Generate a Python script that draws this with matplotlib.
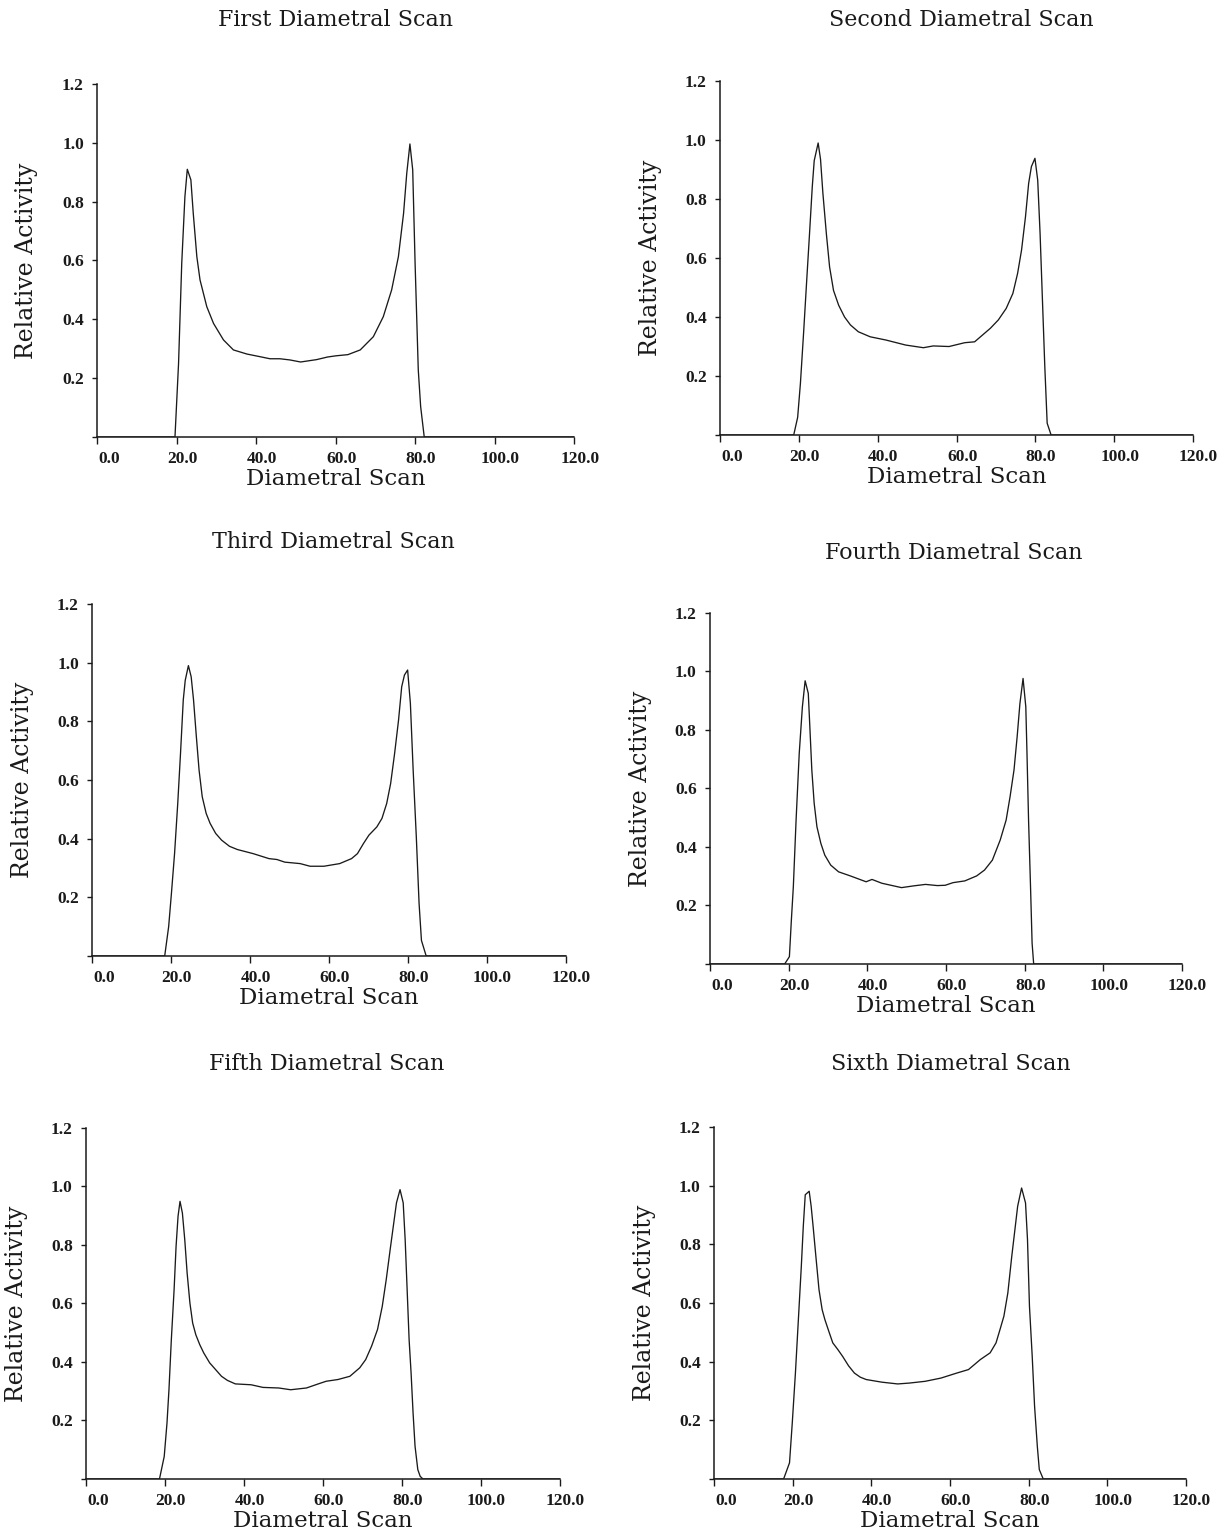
import matplotlib
matplotlib.use('Agg')
import matplotlib.pyplot as plt
from matplotlib.transforms import ScaledTranslation


# values
titles = ['First Diametral Scan', 'Second Diametral Scan', 'Third Diametral Scan',
          'Fourth Diametral Scan', 'Fifth Diametral Scan', 'Sixth Diametral Scan']

scan1_x = [0, 19.6, 20.5, 21.3, 22.1, 22.7, 23.6, 24.2, 25.1, 25.9, 27.6, 29.3, 31.8, 34.3,
           37.7, 41.0, 43.5, 46.0, 48.5, 51.2, 55.2, 58.0, 60.1, 63.1, 66.2, 69.5, 72.0, 74.1,
           75.8, 77.1, 77.9, 78.7, 79.4, 80.0, 80.8, 81.4, 82.3, 120]
scan1_y = [0, 0, 0.25, 0.59, 0.817, 0.91, 0.874, 0.76, 0.613, 0.534, 0.443, 0.386, 0.33, 0.296,
           0.282, 0.273, 0.266, 0.266, 0.262, 0.255, 0.263, 0.272, 0.276, 0.28, 0.296, 0.341,
           0.409, 0.5, 0.613, 0.76, 0.896, 0.996, 0.908, 0.59, 0.228, 0.103, 0, 0]

scan2_x = [0, 18.7, 19.7, 20.4, 21.2, 22.0, 22.7, 23.4, 23.9, 24.9, 25.5, 26.1, 27.0, 27.8, 28.8,
           30.1, 31.6, 33.1, 35.1, 38.1, 42.1, 47.1, 51.6, 54.1, 58.1, 62.1, 64.6, 66.6, 68.6,
           70.6, 72.6, 74.3, 75.5, 76.5, 77.5, 78.3, 79.0, 79.9, 80.6, 81.2, 81.8, 82.4, 83.0,
           84.0, 120]
scan2_y = [0, 0, 0.06, 0.175, 0.345, 0.525, 0.68, 0.84, 0.93, 0.99, 0.935, 0.82, 0.68, 0.57, 0.49,
           0.44, 0.40, 0.373, 0.35, 0.333, 0.322, 0.305, 0.296, 0.302, 0.30, 0.313, 0.316, 0.339,
           0.362, 0.39, 0.429, 0.48, 0.548, 0.627, 0.74, 0.853, 0.91, 0.938, 0.864, 0.684, 0.458,
           0.232, 0.04, 0, 0]

scan3_x = [0, 18.4, 19.4, 20.1, 20.9, 21.7, 22.4, 23.1, 23.6, 24.4, 25.1, 25.7, 26.4, 27.1, 27.9,
           28.9, 29.9, 31.3, 32.8, 34.8, 36.8, 40.8, 44.8, 46.8, 48.8, 52.7, 55.2, 58.7, 62.7,
           65.7, 67.2, 68.7, 70.1, 72.1, 73.4, 74.6, 75.6, 76.6, 77.6, 78.4, 79.1, 79.9, 80.6,
           81.3, 82.1, 82.8, 83.4, 84.6, 120]
scan3_y = [0, 0, 0.1, 0.213, 0.35, 0.52, 0.69, 0.873, 0.94, 0.99, 0.952, 0.873, 0.75, 0.634, 0.543,
           0.486, 0.452, 0.418, 0.395, 0.374, 0.363, 0.349, 0.332, 0.329, 0.32, 0.315, 0.306, 0.306,
           0.315, 0.332, 0.349, 0.383, 0.412, 0.44, 0.469, 0.52, 0.588, 0.69, 0.804, 0.918, 0.958,
           0.975, 0.861, 0.634, 0.406, 0.179, 0.053, 0, 0]

scan4_x = [0, 19.0, 20.2, 20.7, 21.2, 21.9, 22.7, 23.5, 24.2, 25.0, 25.4, 25.9, 26.5, 27.2, 28.2,
           29.2, 30.7, 32.7, 35.7, 39.7, 41.2, 43.7, 48.7, 51.8, 54.8, 57.8, 59.8, 61.8, 64.8,
           67.8, 69.8, 71.8, 73.8, 75.3, 76.3, 77.3, 78.1, 78.8, 79.6, 80.3, 80.6, 81.0, 81.5,
           81.9, 82.3, 120]
scan4_y = [0, 0, 0.025, 0.15, 0.264, 0.492, 0.72, 0.879, 0.968, 0.925, 0.81, 0.663, 0.549, 0.469,
           0.412, 0.372, 0.338, 0.315, 0.301, 0.281, 0.289, 0.276, 0.261, 0.267, 0.272, 0.268,
           0.269, 0.278, 0.284, 0.301, 0.321, 0.355, 0.424, 0.492, 0.572, 0.663, 0.777, 0.89,
           0.976, 0.879, 0.72, 0.492, 0.264, 0.071, 0, 0]

scan5_x = [0, 18.6, 19.8, 20.5, 21.0, 21.6, 22.3, 22.8, 23.3, 23.8, 24.4, 25.0, 25.6, 26.3, 27.0,
           27.8, 28.8, 29.8, 31.3, 32.8, 34.3, 35.8, 37.8, 41.8, 44.8, 48.8, 51.8, 55.8, 58.8,
           60.8, 63.8, 66.8, 69.3, 70.8, 72.3, 73.8, 75.0, 76.0, 77.0, 77.8, 78.6, 79.5, 80.3,
           80.8, 81.3, 81.8, 82.3, 82.8, 83.3, 84.0, 84.6, 85.3, 120]
scan5_y = [0, 0, 0.077, 0.191, 0.305, 0.476, 0.647, 0.795, 0.898, 0.949, 0.909, 0.818, 0.704,
           0.602, 0.533, 0.493, 0.459, 0.431, 0.397, 0.374, 0.351, 0.337, 0.325, 0.322, 0.313,
           0.311, 0.305, 0.311, 0.325, 0.334, 0.34, 0.351, 0.38, 0.408, 0.454, 0.511, 0.59, 0.681,
           0.784, 0.864, 0.944, 0.989, 0.944, 0.818, 0.647, 0.476, 0.362, 0.226, 0.112, 0.032,
           0.009, 0, 0]

scan6_x = [0, 17.7, 19.2, 19.9, 20.7, 21.5, 22.2, 22.7, 23.2, 24.2, 24.7, 25.2, 25.9, 26.7, 27.5,
           28.2, 29.2, 30.2, 31.5, 32.7, 34.2, 35.7, 37.2, 38.7, 42.7, 46.7, 49.7, 53.7, 57.7,
           61.7, 64.7, 67.7, 70.2, 71.7, 72.7, 73.7, 74.7, 75.7, 76.5, 77.2, 78.2, 79.2, 79.7,
           80.2, 80.9, 81.5, 82.2, 82.7, 83.7, 120]
scan6_y = [0, 0, 0.055, 0.191, 0.361, 0.555, 0.725, 0.861, 0.969, 0.981, 0.93, 0.861, 0.759, 0.645,
           0.577, 0.543, 0.503, 0.464, 0.441, 0.418, 0.386, 0.361, 0.347, 0.339, 0.33, 0.324,
           0.327, 0.333, 0.344, 0.361, 0.373, 0.407, 0.43, 0.464, 0.509, 0.555, 0.634, 0.759,
           0.85, 0.93, 0.992, 0.941, 0.816, 0.589, 0.418, 0.248, 0.111, 0.032, 0, 0]

scans_x = [scan1_x, scan2_x, scan3_x, scan4_x, scan5_x, scan6_x]
scans_y = [scan1_y, scan2_y, scan3_y, scan4_y, scan5_y, scan6_y]

x_ticks = [0, 20, 40, 60, 80, 100, 120]
y_ticks = [0, 0.2, 0.4, 0.6, 0.8, 1.0, 1.2]

# axes boxes in figure fraction and title anchor (axes fraction), measured from the page
boxes = [
    [0.0791, 0.7153, 0.3888, 0.2300],
    [0.5868, 0.7166, 0.3855, 0.2306],
    [0.0750, 0.3772, 0.3863, 0.2293],
    [0.5786, 0.3720, 0.3847, 0.2287],
    [0.0701, 0.0365, 0.3863, 0.2287],
    [0.5819, 0.0365, 0.3847, 0.2293],
]
title_pos = [(0.500, 1.181), (0.510, 1.172), (0.509, 1.176),
             (0.516, 1.171), (0.507, 1.182), (0.502, 1.179)]

ink = '#1a1a1a'
label_font = 'DejaVu Serif'
tick_font = 'Liberation Serif'

fig = plt.figure(figsize=(12.27, 15.35), dpi=100)

for i in range(6):
    ax = fig.add_axes(boxes[i])
    ax.plot(scans_x[i], scans_y[i], color=ink, linewidth=0.95)

    ax.set_xlim(0, 120)
    ax.set_ylim(0, 1.2)
    for side in ['top', 'right']:
        ax.spines[side].set_visible(False)
    for side in ['left', 'bottom']:
        ax.spines[side].set_linewidth(1.1)
        ax.spines[side].set_color(ink)

    ax.set_xticks(x_ticks)
    ax.set_xticklabels([f'{t:.1f}' for t in x_ticks])
    ax.set_yticks(y_ticks)
    ax.set_yticklabels([''] + [f'{t:.1f}' for t in y_ticks[1:]])
    ax.tick_params(direction='out', width=1.0, color=ink, labelsize=12.5, labelcolor=ink)
    ax.tick_params(axis='x', length=5, pad=5)
    ax.tick_params(axis='y', length=3.5, pad=6)
    for lab in ax.get_xticklabels() + ax.get_yticklabels():
        lab.set_fontfamily(tick_font)
        lab.set_fontweight('bold')
    # the plotter put the x labels a little right of their ticks
    for k, lab in enumerate(ax.get_xticklabels()):
        dx = 9 / 72 if k == 0 else 4 / 72
        lab.set_transform(lab.get_transform() + ScaledTranslation(dx, 0, fig.dpi_scale_trans))

    ax.text(title_pos[i][0], title_pos[i][1], titles[i], transform=ax.transAxes,
            ha='center', va='center', fontsize=16, family=label_font, color=ink)

    ax.set_xlabel('Diametral Scan', fontsize=16.5, family=label_font, color=ink)
    ax.xaxis.set_label_coords(0.5, -0.12)
    ax.xaxis.label.set_va('center')
    ax.set_ylabel('Relative Activity', fontsize=17, family=label_font, color=ink)
    ax.yaxis.set_label_coords(-0.147, 0.5)
    ax.yaxis.label.set_va('center')

fig.savefig('out.png', dpi=100, facecolor='white')
